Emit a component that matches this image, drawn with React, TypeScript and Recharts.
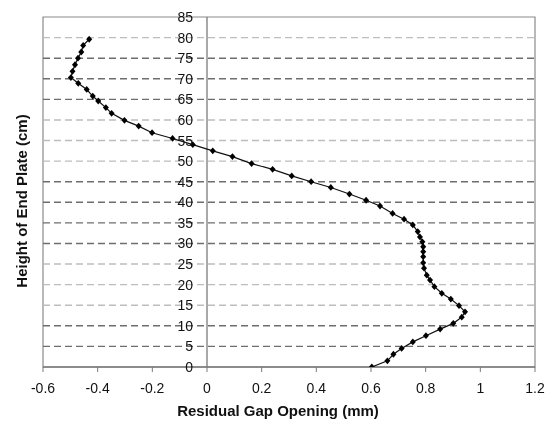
import React from 'react';
import { ComposedChart, Scatter, XAxis, YAxis, ReferenceLine, ReferenceArea } from 'recharts';

const HEIGHTS = [0, 1.5, 3.1, 4.5, 6.1, 7.6, 9.2, 10.6, 12.1, 13.4, 14.9, 16.5, 17.9, 19.5, 21.1, 22.3, 24.0, 25.3, 26.8, 28.0, 29.2, 30.4, 31.6, 32.9, 34.5, 35.9, 37.3, 39.1, 40.5, 42.0, 43.6, 45.0, 46.4, 48.0, 49.4, 51.1, 52.5, 54.0, 55.5, 56.9, 58.5, 59.9, 61.6, 63.0, 64.6, 65.8, 67.4, 68.9, 70.3, 71.8, 73.4, 75.0, 76.5, 78.1, 79.6];
const GAPS = [0.603, 0.66, 0.682, 0.712, 0.753, 0.801, 0.853, 0.901, 0.932, 0.944, 0.922, 0.892, 0.859, 0.832, 0.816, 0.804, 0.794, 0.791, 0.791, 0.791, 0.791, 0.788, 0.779, 0.771, 0.753, 0.721, 0.679, 0.633, 0.582, 0.521, 0.453, 0.381, 0.31, 0.24, 0.163, 0.093, 0.021, -0.052, -0.126, -0.201, -0.25, -0.302, -0.349, -0.37, -0.398, -0.418, -0.44, -0.471, -0.498, -0.492, -0.483, -0.472, -0.46, -0.453, -0.431];

const X_TICKS = [-0.6, -0.4, -0.2, 0, 0.2, 0.4, 0.6, 0.8, 1, 1.2];
const Y_TICKS = [0, 5, 10, 15, 20, 25, 30, 35, 40, 45, 50, 55, 60, 65, 70, 75, 80, 85];
const GRID_LEVELS = [5, 10, 15, 20, 25, 30, 35, 40, 45, 50, 55, 60, 65, 70, 75, 80];
const DARK_GRID = [5, 10, 30, 35, 40, 45, 65, 70, 75];

const X_TITLE = 'Residual Gap Opening (mm)';
const Y_TITLE = 'Height of End Plate (cm)';

const XMIN = -0.6;
const XMAX = 1.2;
const YMIN = 0;
const YMAX = 85;

const data = HEIGHTS.map((h, i) => ({ x: GAPS[i], y: h }));

const CHART_W = 538;
const CHART_H = 417;
const PLOT_LEFT = 35;
const PLOT_RIGHT_MARGIN = 11;
const PLOT_W = CHART_W - PLOT_LEFT - PLOT_RIGHT_MARGIN;
const ZERO_X = PLOT_LEFT + ((0 - XMIN) / (XMAX - XMIN)) * PLOT_W;

const FONT = '"Liberation Sans", Arial, sans-serif';

const Diamond = (props: any) => {
  const { cx, cy } = props;
  if (cx == null || cy == null) return null;
  const w = 3;
  const h = 3.4;
  return <path d={`M${cx},${cy - h}L${cx + w},${cy}L${cx},${cy + h}L${cx - w},${cy}Z`} fill="#000" />;
};

const YTick = (props: any) => {
  const { y, payload } = props;
  return (
    <text x={ZERO_X - 14} y={y} textAnchor="end" dominantBaseline="central" fontSize={14} fill="#111" fontFamily={FONT}>
      {payload.value}
    </text>
  );
};

const fmtX = (v: number) => String(Number(v.toFixed(1)));

export default function App() {
  return (
    <div style={{ position: 'fixed', left: 8, top: 8, width: CHART_W, height: CHART_H }}>
      <style>{`.recharts-surface{overflow:visible}`}</style>
      <ComposedChart width={CHART_W} height={CHART_H} margin={{ top: 9, right: PLOT_RIGHT_MARGIN, left: 0, bottom: 0 }}>
        <XAxis
          type="number"
          dataKey="x"
          domain={[XMIN, XMAX]}
          ticks={X_TICKS}
          interval={0}
          allowDataOverflow
          height={58}
          tickSize={5}
          tickMargin={11}
          tickFormatter={fmtX}
          axisLine={{ stroke: '#7a7a7a', strokeWidth: 1.5 }}
          tickLine={{ stroke: '#7a7a7a' }}
          tick={{ fontSize: 14, fill: '#111', fontFamily: FONT }}
          label={{
            content: (p: any) => {
              const vb = p.viewBox;
              return (
                <text x={vb.x + vb.width / 2 - 11} y={vb.y + 43} textAnchor="middle" dominantBaseline="central" fontSize={15} fontWeight="bold" fill="#111" fontFamily={FONT}>
                  {X_TITLE}
                </text>
              );
            },
          }}
        />
        <YAxis
          type="number"
          dataKey="y"
          domain={[YMIN, YMAX]}
          ticks={Y_TICKS}
          interval={0}
          allowDataOverflow
          width={PLOT_LEFT}
          axisLine={false}
          tickLine={false}
          tick={<YTick />}
          label={{
            content: (p: any) => {
              const vb = p.viewBox;
              const cx = 13;
              const cy = vb.y + vb.height / 2 + 9;
              return (
                <text x={cx} y={cy} transform={`rotate(-90 ${cx} ${cy})`} textAnchor="middle" dominantBaseline="central" fontSize={15} fontWeight="bold" fill="#111" fontFamily={FONT}>
                  {Y_TITLE}
                </text>
              );
            },
          }}
        />
        {GRID_LEVELS.map((lv) => (
          <ReferenceLine
            key={lv}
            y={lv}
            stroke={DARK_GRID.includes(lv) ? '#6e6e6e' : '#bdbdbd'}
            strokeWidth={1.4}
            strokeDasharray="7 4"
          />
        ))}
        <ReferenceArea x1={XMIN} x2={XMAX} y1={YMIN} y2={YMAX} fill="none" fillOpacity={0} stroke="#8a8a8a" strokeWidth={1.2} />
        <ReferenceLine x={0} stroke="#7a7a7a" strokeWidth={1.3} />
        <Scatter
          data={data}
          isAnimationActive={false}
          line={{ stroke: '#111', strokeWidth: 1.2 }}
          lineType="joint"
          shape={<Diamond />}
        />
      </ComposedChart>
    </div>
  );
}
